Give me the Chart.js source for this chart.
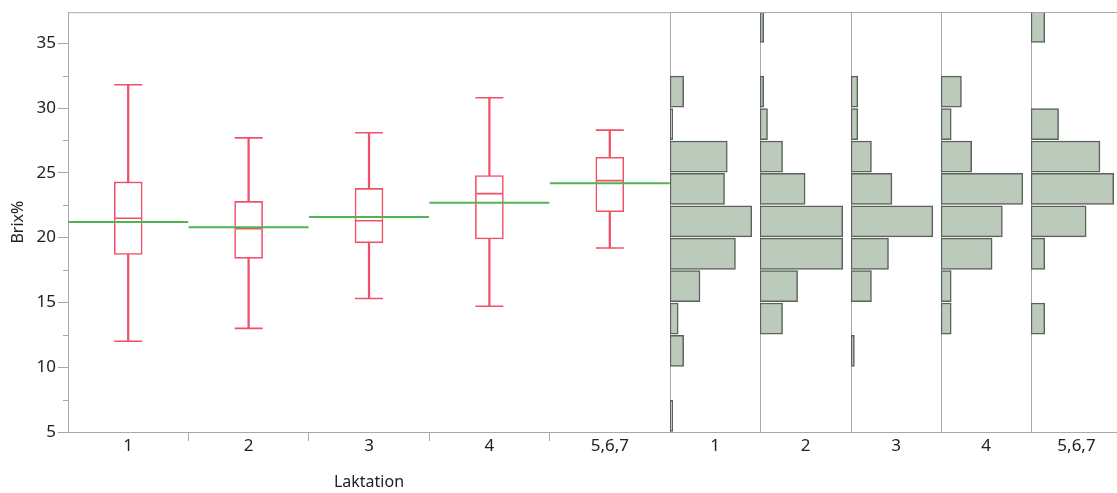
<!DOCTYPE html>
<html>
<head>
<meta charset="utf-8">
<script src="https://cdn.jsdelivr.net/npm/chart.js@4"></script>
<style>
  html, body { margin: 0; padding: 0; background: #fff; overflow: hidden; }
  #wrap { position: relative; width: 1117px; height: 493px; overflow: hidden; }
  canvas { position: absolute; top: 0; }
</style>
</head>
<body>
<div id="wrap">
  <canvas id="box" width="670" height="493" style="left:0px"></canvas>
  <canvas id="h1" width="90" height="493" style="left:670px"></canvas>
  <canvas id="h2" width="91" height="493" style="left:760px"></canvas>
  <canvas id="h3" width="90" height="493" style="left:851px"></canvas>
  <canvas id="h4" width="90" height="493" style="left:941px"></canvas>
  <canvas id="h5" width="91" height="493" style="left:1031px"></canvas>
</div>
<script>
// Brix% by Laktation, box plot values
const laktation = ['1', '2', '3', '4', '5,6,7'];
const whiskerLow = [12.0, 13.0, 15.3, 14.7, 19.2];
const q1 = [18.7, 18.4, 19.6, 19.9, 22.0];
const medians = [21.5, 20.7, 21.3, 23.4, 24.4];
const q3 = [24.3, 22.8, 23.8, 24.8, 26.2];
const whiskerHigh = [31.8, 27.7, 28.1, 30.8, 28.3];
const means = [21.2, 20.8, 21.6, 22.7, 24.2];

// histogram bins (2.5 wide), counts bottom -> top
const binMids = [6.25, 8.75, 11.25, 13.75, 16.25, 18.75, 21.25, 23.75, 26.25, 28.75, 31.25, 33.75, 36.25];
const hist1 = [1, 0, 5, 3, 11, 24, 30, 20, 21, 1, 5, 0, 0];
const hist2 = [0, 0, 0, 6, 10, 22, 22, 12, 6, 2, 1, 0, 1];
const hist3 = [0, 0, 1, 0, 6, 11, 24, 12, 6, 2, 2, 0, 0];
const hist4 = [0, 0, 0, 1, 1, 5, 6, 8, 3, 1, 2, 0, 0];
const hist5 = [0, 0, 0, 1, 0, 1, 4, 6, 5, 2, 0, 0, 1];

const yMin = 5, yMax = 37.4;
const grey = '#a8a8a8';
const red = '#f0506a';
const green = '#52b352';

Chart.defaults.font.family = "'Noto Sans', sans-serif";
Chart.defaults.font.size = 17;
Chart.defaults.color = '#222';
Chart.defaults.animation = false;
Chart.defaults.events = [];
Chart.defaults.plugins.legend.display = false;
Chart.defaults.plugins.tooltip.enabled = false;

const topLine = {
    id: 'topLine',
    afterDraw(chart) {
        const a = chart.chartArea, ctx = chart.ctx;
        ctx.save();
        ctx.strokeStyle = grey;
        ctx.lineWidth = 1;
        ctx.beginPath();
        ctx.moveTo(a.left, a.top + 0.5);
        ctx.lineTo(a.right, a.top + 0.5);
        ctx.stroke();
        ctx.restore();
    }
};

// short ticks halfway between the labelled ones
const minorTicks = {
    id: 'minorTicks',
    afterDraw(chart) {
        const s = chart.scales.y, ctx = chart.ctx;
        ctx.save();
        ctx.strokeStyle = grey;
        ctx.lineWidth = 1;
        for (let v = s.min + 2.5; v < s.max; v += 5) {
            const y = Math.round(s.getPixelForValue(v)) + 0.5;
            ctx.beginPath();
            ctx.moveTo(s.right - 5, y);
            ctx.lineTo(s.right, y);
            ctx.stroke();
        }
        ctx.restore();
    }
};

function markLine(values, radius, color, width, order) {
    return {
        type: 'line',
        data: values,
        showLine: false,
        pointStyle: 'line',
        pointRadius: radius,
        pointBorderColor: color,
        pointBackgroundColor: color,
        pointBorderWidth: width,
        order: order
    };
}

new Chart(document.getElementById('box'), {
    type: 'bar',
    data: {
        labels: laktation,
        datasets: [
            markLine(means, 60, green, 2, 1),
            markLine(medians, 13, red, 1.6, 2),
            markLine(whiskerHigh, 14, red, 1.6, 2),
            markLine(whiskerLow, 14, red, 1.6, 2),
            {
                type: 'bar',
                data: laktation.map((_, i) => [q1[i], q3[i]]),
                backgroundColor: '#fff',
                borderColor: red,
                borderWidth: 1.6,
                borderSkipped: false,
                barThickness: 28,
                grouped: false,
                order: 3
            },
            {
                type: 'bar',
                data: laktation.map((_, i) => [whiskerLow[i], whiskerHigh[i]]),
                backgroundColor: red,
                borderWidth: 0,
                barThickness: 1.6,
                grouped: false,
                order: 4
            }
        ]
    },
    options: {
        responsive: false,
        layout: { autoPadding: false, padding: { top: 12, left: 0, right: 0, bottom: 0 } },
        scales: {
            x: {
                ticks: { padding: -5, maxRotation: 0, autoSkip: false },
                grid: {
                    drawOnChartArea: false,
                    tickLength: 9,
                    offset: true,
                    tickColor: c => (c.index >= 1 ? grey : 'rgba(0,0,0,0)')
                },
                border: { color: grey },
                title: { display: true, text: 'Laktation', font: { size: 16 }, padding: { top: 0, bottom: 1 } },
                afterFit: s => { s.height = 61; }
            },
            y: {
                type: 'linear',
                min: yMin,
                max: yMax,
                ticks: { stepSize: 5, includeBounds: false, padding: 2 },
                grid: { drawOnChartArea: false, tickLength: 10, color: grey },
                border: { color: grey },
                title: { display: true, text: 'Brix%', font: { size: 16 }, padding: { top: 9, bottom: 0 } },
                afterFit: s => { s.width = 68; }
            }
        }
    },
    plugins: [topLine, minorTicks]
});

function drawHist(id, label, counts) {
    new Chart(document.getElementById(id), {
        type: 'bar',
        data: {
            datasets: [{
                data: binMids.map((m, i) => ({ x: counts[i], y: m })),
                backgroundColor: '#bbcabb',
                borderColor: '#5b625b',
                borderWidth: 1.5,
                borderSkipped: false,
                barPercentage: 1,
                categoryPercentage: 1
            }]
        },
        options: {
            responsive: false,
            indexAxis: 'y',
            layout: { autoPadding: false, padding: { top: 12, left: 0, right: 0, bottom: 0 } },
            scales: {
                x: {
                    type: 'linear',
                    min: 0,
                    max: Math.max(...counts) * 1.1,
                    ticks: { display: false },
                    grid: { display: false },
                    border: { color: grey },
                    title: { display: true, text: label, padding: { top: 0, bottom: 37 } },
                    afterFit: s => { s.height = 61; }
                },
                y: {
                    type: 'linear',
                    min: yMin,
                    max: yMax,
                    offset: false,
                    ticks: { display: false },
                    grid: { display: false, offset: false },
                    border: { color: grey },
                    afterFit: s => { s.width = 0; }
                }
            }
        },
        plugins: [topLine]
    });
}

drawHist('h1', laktation[0], hist1);
drawHist('h2', laktation[1], hist2);
drawHist('h3', laktation[2], hist3);
drawHist('h4', laktation[3], hist4);
drawHist('h5', laktation[4], hist5);
</script>
</body>
</html>
